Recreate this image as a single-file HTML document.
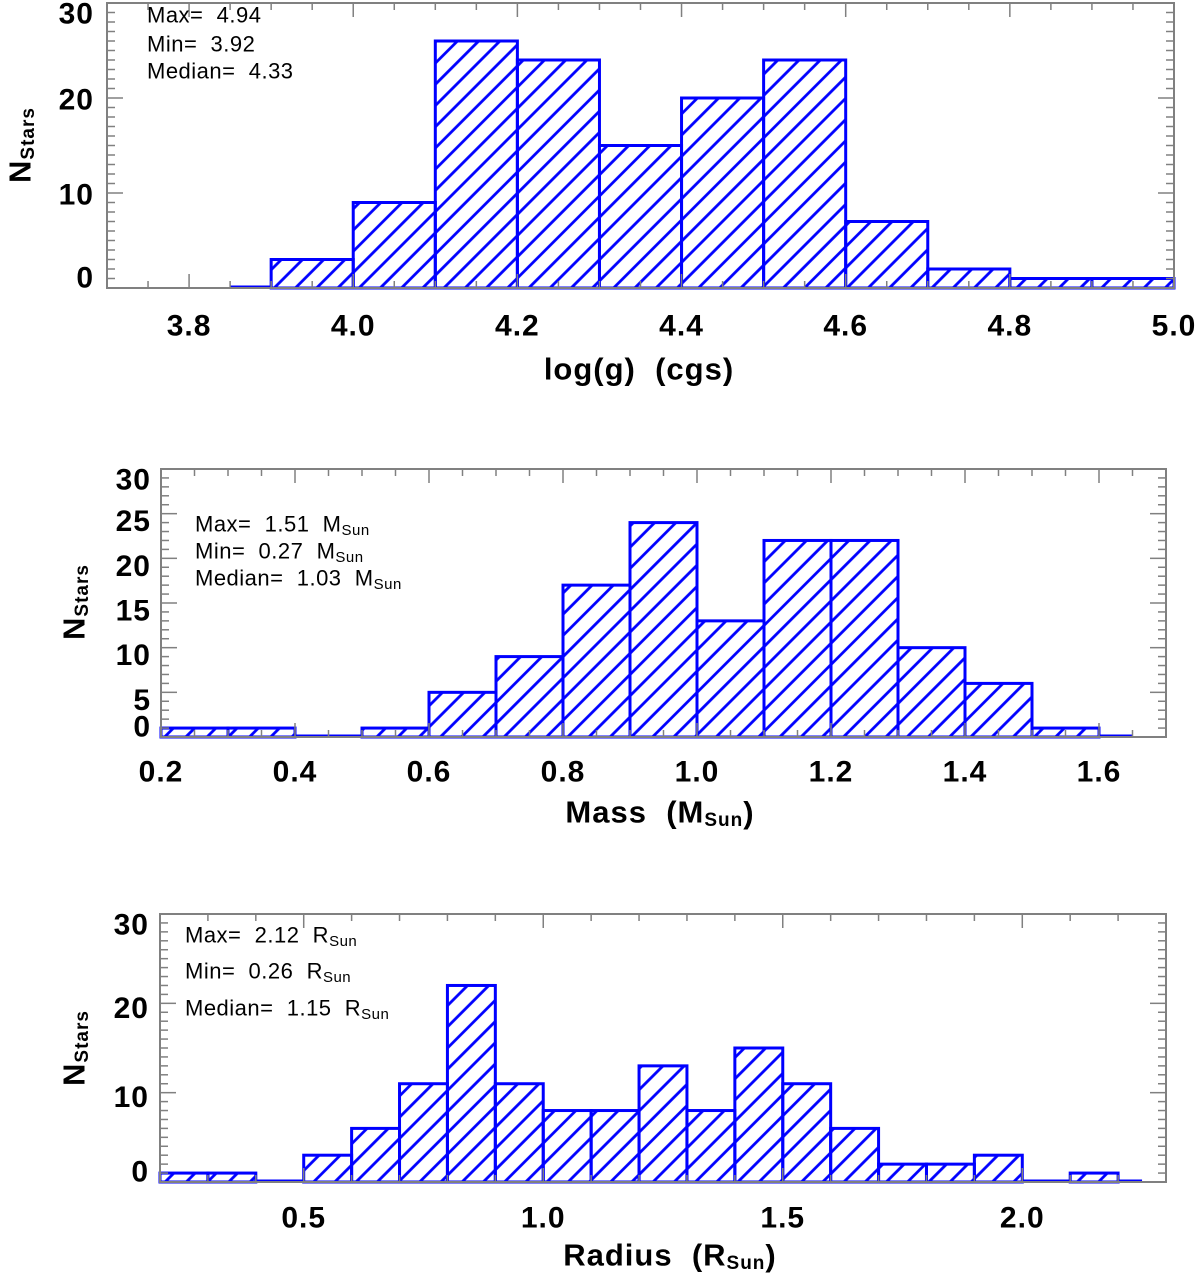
<!DOCTYPE html>
<html><head><meta charset="utf-8">
<style>
html,body{margin:0;padding:0;background:#fff;}
svg{display:block;}
text{font-family:"Liberation Sans",sans-serif;fill:#000;white-space:pre;}
.tick{font-weight:bold;font-size:30px;letter-spacing:1px;}
.title{font-weight:bold;font-size:31px;letter-spacing:1px;}
.ann{font-size:22px;letter-spacing:0.5px;}
</style></head>
<body>
<svg id="chart" width="1200" height="1276" viewBox="0 0 1200 1276" xmlns="http://www.w3.org/2000/svg">
<defs>
<pattern id="hatch" patternUnits="userSpaceOnUse" width="15" height="15" patternTransform="rotate(45)">
<line x1="7.5" y1="-2" x2="7.5" y2="17" stroke="#0000ff" stroke-width="2.8"/>
</pattern>
</defs>
</svg>
<script>
// Panel 1: log(g)
const loggEdges = [3.85,3.9,4.0,4.1,4.2,4.3,4.4,4.5,4.6,4.7,4.8,4.9,5.0];
const loggCounts = [0,3,9,26,24,15,20,24,7,2,1,1];
const loggXTicks = ["3.8","4.0","4.2","4.4","4.6","4.8","5.0"];
const loggYTicks = ["0","10","20","30"];
// Panel 2: Mass
const massEdges = [0.2,0.3,0.4,0.5,0.6,0.7,0.8,0.9,1.0,1.1,1.2,1.3,1.4,1.5,1.6,1.65];
const massCounts = [1,1,0,1,5,9,17,24,13,22,22,10,6,1,0];
const massXTicks = ["0.2","0.4","0.6","0.8","1.0","1.2","1.4","1.6"];
const massYTicks = ["0","5","10","15","20","25","30"];
// Panel 3: Radius
const radEdges = [0.2,0.3,0.4,0.5,0.6,0.7,0.8,0.9,1.0,1.1,1.2,1.3,1.4,1.5,1.6,1.7,1.8,1.9,2.0,2.1,2.2,2.25];
const radCounts = [1,1,0,3,6,11,22,11,8,8,13,8,15,11,6,2,2,3,0,1,0];
const radXTicks = ["0.5","1.0","1.5","2.0"];
const radYTicks = ["0","10","20","30"];

const NS = "http://www.w3.org/2000/svg";
const svg = document.getElementById("chart");
function mk(tag, attrs, parent){
  const e = document.createElementNS(NS, tag);
  for (const k in attrs) e.setAttribute(k, attrs[k]);
  (parent||svg).appendChild(e);
  return e;
}

function panel(p){
  const g = mk("g", {});
  
  
  const X = v => p.left + (v - p.xmin) / (p.xmax - p.xmin) * (p.right - p.left);
  const Y = v => p.bottom - (v - p.ymin) / (p.ymax - p.ymin) * (p.bottom - p.top);
  for (let i = 0; i < p.counts.length; i++){
    const x0 = X(p.edges[i]), x1 = X(p.edges[i+1]), c = p.counts[i];
    if (c > 0){
      const r = mk("rect", {x:x0, y:Y(c), width:x1-x0, height:Y(0)-Y(c), fill:"url(#hatch)", stroke:"#0000ff", "stroke-width":3}, g);
      
      
    } else {
      const l = mk("line", {x1:x0, x2:x1, y1:Y(0)-1, y2:Y(0)-1, stroke:"#0000ff", "stroke-width":3}, g);
      
      
    }
  }
  const box = mk("rect", {x:p.left, y:p.top, width:p.right-p.left, height:p.bottom-p.top, fill:"none", stroke:"#808080", "stroke-width":2}, g);
  
  
  for (let v = p.xmin; v <= p.xmax + 1e-9; v += p.xminor){
    const vv = Math.round(v*1000)/1000;
    const isMaj = Math.abs(Math.round(vv / p.xmajor) * p.xmajor - vv) < 1e-6;
    const len = isMaj ? 14 : 7, x = X(vv);
    mk("line", {x1:x, x2:x, y1:p.bottom, y2:p.bottom-len, stroke:"#808080", "stroke-width":1.5}, g);
    mk("line", {x1:x, x2:x, y1:p.top, y2:p.top+len, stroke:"#808080", "stroke-width":1.5}, g);
  }
  p.xticks.forEach(s => {
    const t = mk("text", {x:X(parseFloat(s)), y:p.xlabY, "text-anchor":"middle", "dominant-baseline":"central", class:"tick"}, g);
    t.textContent = s;
    
    
  });
  for (let v = p.ymin; v <= p.ymax; v += 1){
    const isMaj = v % p.ymajor === 0;
    const len = isMaj ? 16 : 8, y = Y(v);
    mk("line", {x1:p.left, x2:p.left+len, y1:y, y2:y, stroke:"#808080", "stroke-width":1.5}, g);
    mk("line", {x1:p.right, x2:p.right-len, y1:y, y2:y, stroke:"#808080", "stroke-width":1.5}, g);
  }
  p.yticks.forEach(s => {
    const v = parseFloat(s);
    let yy = Y(v) + p.ylabOff;
    yy = Math.min(yy, p.bottom - 10);
    yy = Math.max(yy, p.top + 11);
    const t = mk("text", {x:p.ylabX, y:yy, "text-anchor":"end", "dominant-baseline":"central", class:"tick"}, g);
    t.textContent = s;
    
    
  });
  const yt = mk("text", {transform:`translate(${p.ytitleX},${p.ytitleY}) rotate(-90)`, "text-anchor":"middle", "dominant-baseline":"central", class:"title"}, g);
  yt.innerHTML = 'N<tspan font-size="19" dy="8">Stars</tspan>';
  
  
  const xt = mk("text", {x:p.xtitleX, y:p.xtitleY, "text-anchor":"middle", "dominant-baseline":"central", class:"title"}, g);
  xt.innerHTML = p.xtitle;
  
  
  p.ann.forEach((s, i) => {
    const t = mk("text", {x:p.annX, y:p.annY[i], "dominant-baseline":"central", class:"ann"}, g);
    t.innerHTML = s;
    
    
  });
}

const sub = u => '\u00a0\u00a0' + u + '<tspan font-size="15" dy="6">Sun</tspan>';

panel({name:"logg-panel", edges:loggEdges, counts:loggCounts, xticks:loggXTicks, yticks:loggYTicks,
  left:107, right:1174, top:3, bottom:288, xmin:3.7, xmax:5.0, ymin:0, ymax:30,
  xmajor:0.2, xminor:0.05, ymajor:10, xlabY:326, ylabX:94, ylabOff:2,
  ytitleX:20, ytitleY:145, xtitleX:639, xtitleY:369, xtitle:"log(g)\u00a0\u00a0(cgs)",
  annX:147, annY:[15,44,71], ann:["Max=\u00a0\u00a04.94","Min=\u00a0\u00a03.92","Median=\u00a0\u00a04.33"]});

panel({name:"mass-panel", edges:massEdges, counts:massCounts, xticks:massXTicks, yticks:massYTicks,
  left:161, right:1166, top:469, bottom:737, xmin:0.2, xmax:1.7, ymin:0, ymax:30,
  xmajor:0.2, xminor:0.05, ymajor:5, xlabY:772, ylabX:151, ylabOff:8,
  ytitleX:74, ytitleY:602, xtitleX:660, xtitleY:812, xtitle:'Mass\u00a0\u00a0(M<tspan font-size="19" dy="8">Sun</tspan><tspan dy="-8">)</tspan>',
  annX:195, annY:[524,551,578], ann:["Max=\u00a0\u00a01.51"+sub("M"),"Min=\u00a0\u00a00.27"+sub("M"),"Median=\u00a0\u00a01.03"+sub("M")]});

panel({name:"radius-panel", edges:radEdges, counts:radCounts, xticks:radXTicks, yticks:radYTicks,
  left:160, right:1166, top:914, bottom:1182, xmin:0.2, xmax:2.3, ymin:0, ymax:30,
  xmajor:0.5, xminor:0.1, ymajor:10, xlabY:1218, ylabX:149, ylabOff:5,
  ytitleX:74, ytitleY:1048, xtitleX:670, xtitleY:1255, xtitle:'Radius\u00a0\u00a0(R<tspan font-size="19" dy="8">Sun</tspan><tspan dy="-8">)</tspan>',
  annX:185, annY:[935,971,1008], ann:["Max=\u00a0\u00a02.12"+sub("R"),"Min=\u00a0\u00a00.26"+sub("R"),"Median=\u00a0\u00a01.15"+sub("R")]});
</script>
</body></html>
